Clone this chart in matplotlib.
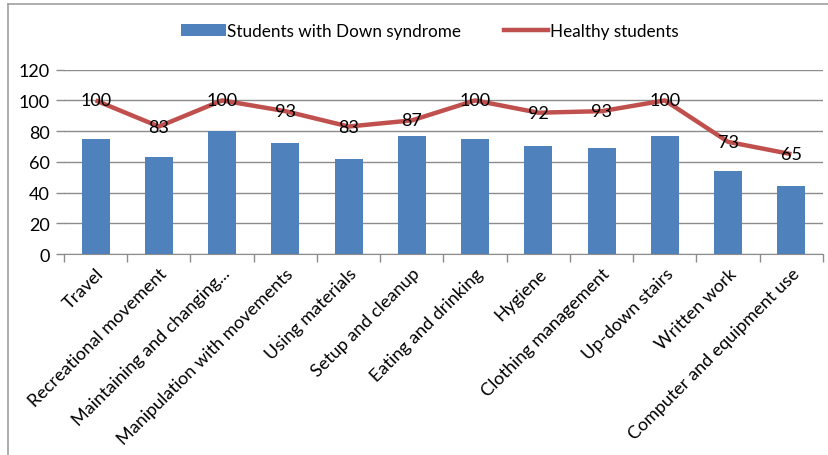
import numpy as np
import matplotlib.pyplot as plt
from matplotlib.lines import Line2D
from matplotlib.patches import Patch

plt.rcParams['font.family'] = ['Lato', 'DejaVu Sans']

categories = ['Travel', 'Recreational movement', 'Maintaining and changing...',
              'Manipulation with movements', 'Using materials', 'Setup and cleanup',
              'Eating and drinking', 'Hygiene', 'Clothing management',
              'Up-down stairs', 'Written work', 'Computer and equipment use']
down_syndrome = [75, 63, 80, 72, 62, 77, 75, 70, 69, 77, 54, 44]
healthy = [100, 83, 100, 93, 83, 87, 100, 92, 93, 100, 73, 65]

bar_color = '#4F81BD'
line_color = '#C0504D'
grid_color = '#8C8C8C'

fig = plt.figure(figsize=(8.29, 4.56), dpi=100)
ax = fig.add_axes([64 / 829, 1 - 255 / 456, (823 - 64) / 829, (255 - 70.7) / 456])

x = np.arange(len(categories))
ax.bar(x, down_syndrome, width=0.44, color=bar_color, zorder=2)
ax.plot(x, healthy, color=line_color, lw=3.2, zorder=3, solid_capstyle='butt')
for xi, v in zip(x, healthy):
    ax.text(xi, v, str(v), ha='center', va='center', fontsize=13, color='black', zorder=4)

ax.set_xlim(-0.5, len(categories) - 0.5)
ax.set_ylim(0, 120)
ax.set_yticks(range(0, 121, 20))
ax.yaxis.grid(True, color=grid_color, lw=1.0, zorder=0)
ax.set_axisbelow(True)

# category ticks sit on the boundaries between groups
ax.set_xticks(np.arange(-0.5, len(categories)), minor=False)
ax.set_xticklabels([])
ax.set_xticks(x, minor=True)
ax.set_xticklabels(categories, minor=True, rotation=45, ha='right',
                   rotation_mode='anchor', fontsize=13)
ax.tick_params(axis='x', which='major', length=6, color=grid_color, width=1)
ax.tick_params(axis='x', which='minor', length=0, pad=8)
ax.tick_params(axis='y', length=6, color=grid_color, width=1, labelsize=13, pad=4)

for s in ['top', 'right', 'left']:
    ax.spines[s].set_visible(False)
ax.spines['bottom'].set_color(grid_color)

handles = [Patch(facecolor=bar_color, label='Students with Down syndrome'),
           Line2D([0], [0], color=line_color, lw=3.2, label='Healthy students')]
fig.legend(handles=handles, loc='center', bbox_to_anchor=(430 / 829, 1 - 32 / 456),
           ncol=2, frameon=False, fontsize=12.3, handlelength=2.6, handletextpad=0.1,
           columnspacing=2.5)

# outer frame: left and top edges
fig.add_artist(Line2D([8 / 829, 8 / 829], [0, 1 - 5 / 456], transform=fig.transFigure,
                      color='#A0A0A0', lw=1.2))
fig.add_artist(Line2D([8 / 829, 1], [1 - 5 / 456, 1 - 5 / 456], transform=fig.transFigure,
                      color='#A0A0A0', lw=1.2))

fig.savefig('out.png', dpi=100)
